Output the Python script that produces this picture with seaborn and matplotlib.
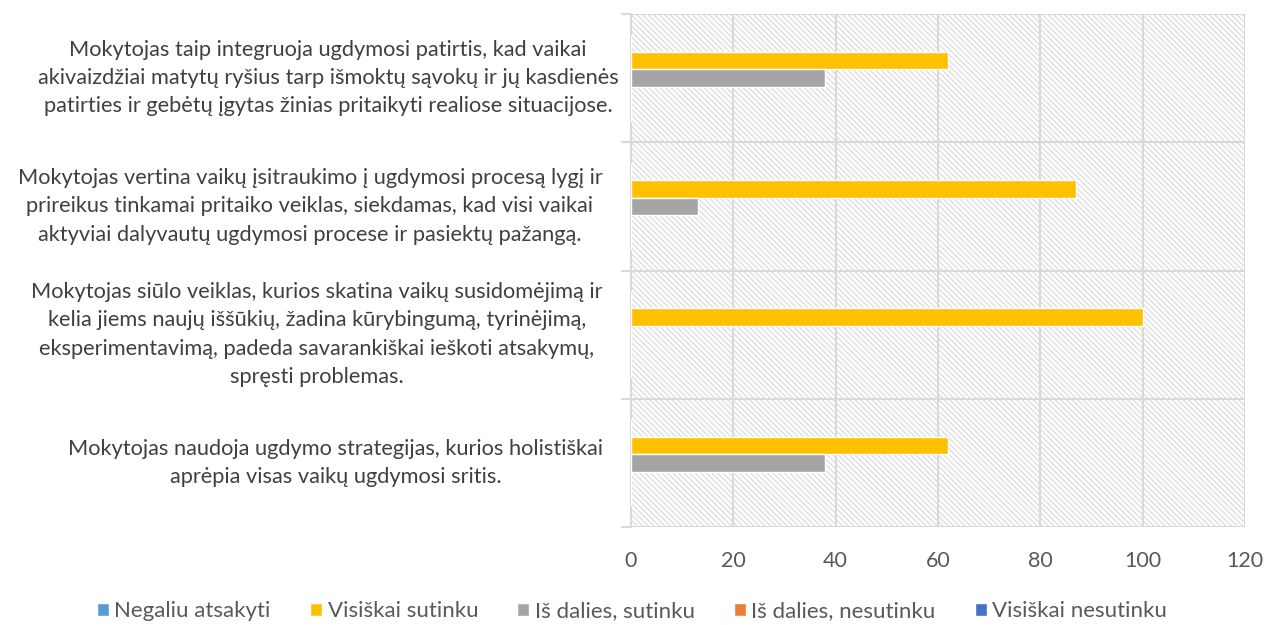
import matplotlib
matplotlib.use("Agg")
import matplotlib.pyplot as plt
from matplotlib.patches import Rectangle
import pandas as pd
import seaborn as sns

statements = [
    "Mokytojas taip integruoja ugdymosi patirtis, kad vaikai\n"
    "akivaizdžiai matytų ryšius tarp išmoktų sąvokų ir jų kasdienės\n"
    "patirties ir gebėtų įgytas žinias pritaikyti realiose situacijose.",
    "Mokytojas vertina vaikų įsitraukimo į ugdymosi procesą lygį ir\n"
    "prireikus tinkamai pritaiko veiklas, siekdamas, kad visi vaikai\n"
    "aktyviai dalyvautų ugdymosi procese ir pasiektų pažangą.",
    "Mokytojas siūlo veiklas, kurios skatina vaikų susidomėjimą ir\n"
    "kelia jiems naujų iššūkių, žadina kūrybingumą, tyrinėjimą,\n"
    "eksperimentavimą, padeda savarankiškai ieškoti atsakymų,\n"
    "spręsti problemas.",
    "Mokytojas naudoja ugdymo strategijas, kurios holistiškai\n"
    "aprėpia visas vaikų ugdymosi sritis.",
]
responses = ["Negaliu atsakyti", "Visiškai sutinku", "Iš dalies, sutinku",
             "Iš dalies, nesutinku", "Visiškai nesutinku"]
colors = ["#5B9BD5", "#FFC000", "#A5A5A5", "#ED7D31", "#4472C4"]

negaliu = [0, 0, 0, 0]
visiskai_sutinku = [62, 87, 100, 62]
is_dalies_sutinku = [38, 13, 0, 38]
is_dalies_nesutinku = [0, 0, 0, 0]
visiskai_nesutinku = [0, 0, 0, 0]

series = [negaliu, visiskai_sutinku, is_dalies_sutinku,
          is_dalies_nesutinku, visiskai_nesutinku]
rows = []
for resp, vals in zip(responses, series):
    for st, v in zip(statements, vals):
        rows.append({"statement": st, "response": resp, "value": v})
df = pd.DataFrame(rows)

sns.set_style("white")
plt.rcParams["font.family"] = ["Lato", "DejaVu Sans"]
plt.rcParams["hatch.linewidth"] = 0.8
text_color = "#595959"
label_color = "#404040"
grid_color = "#D9D9D9"

fig = plt.figure(figsize=(12.64, 6.25), dpi=100)
ax = fig.add_axes([0.4992, 0.1568, 0.4858, 0.8208])

# hatched plot area
ax.add_patch(Rectangle((0, 0), 1, 1, transform=ax.transAxes, facecolor="white",
                       edgecolor="#D8D8D8", hatch="\\\\\\\\\\\\", linewidth=0,
                       zorder=0))

sns.barplot(data=df, y="statement", x="value", hue="response", orient="h",
            order=statements, hue_order=responses, palette=colors,
            width=0.68, saturation=1, ax=ax, zorder=3)

ax.set_xlim(0, 120)
ax.set_ylim(3.5, -0.5)
ax.set_xticks(range(0, 121, 20))
ax.set_yticks([-0.5, 0.5, 1.5, 2.5, 3.5])
ax.set_yticklabels([])
ax.set_xlabel("")
ax.set_ylabel("")
ax.tick_params(axis="x", length=0, pad=17, labelsize=15.5, labelcolor=text_color)
ax.tick_params(axis="y", length=7, width=1.5, color=grid_color, left=True)
ax.grid(True, color=grid_color, linewidth=1.5, zorder=1)
ax.set_axisbelow(True)
for side in ["right", "bottom", "top"]:
    ax.spines[side].set_visible(False)
ax.spines["left"].set_color(grid_color)
ax.spines["left"].set_linewidth(1.5)

label_x = [-0.4935, -0.5228, -0.5114, -0.4805]
for i, st in enumerate(statements):
    ax.text(label_x[i], i, st, transform=ax.get_yaxis_transform(), ha="center",
            va="center", multialignment="center", fontsize=15.7,
            color=label_color, linespacing=1.52)

sns.move_legend(ax, "lower center", bbox_to_anchor=(0.5, -0.012),
                bbox_transform=fig.transFigure, ncol=5, title=None,
                frameon=False, fontsize=16, handlelength=0.55, handleheight=0.55,
                handletextpad=0.25, columnspacing=1.75, borderaxespad=0.1,
                labelcolor=text_color)

fig.savefig("out.png", dpi=100)
